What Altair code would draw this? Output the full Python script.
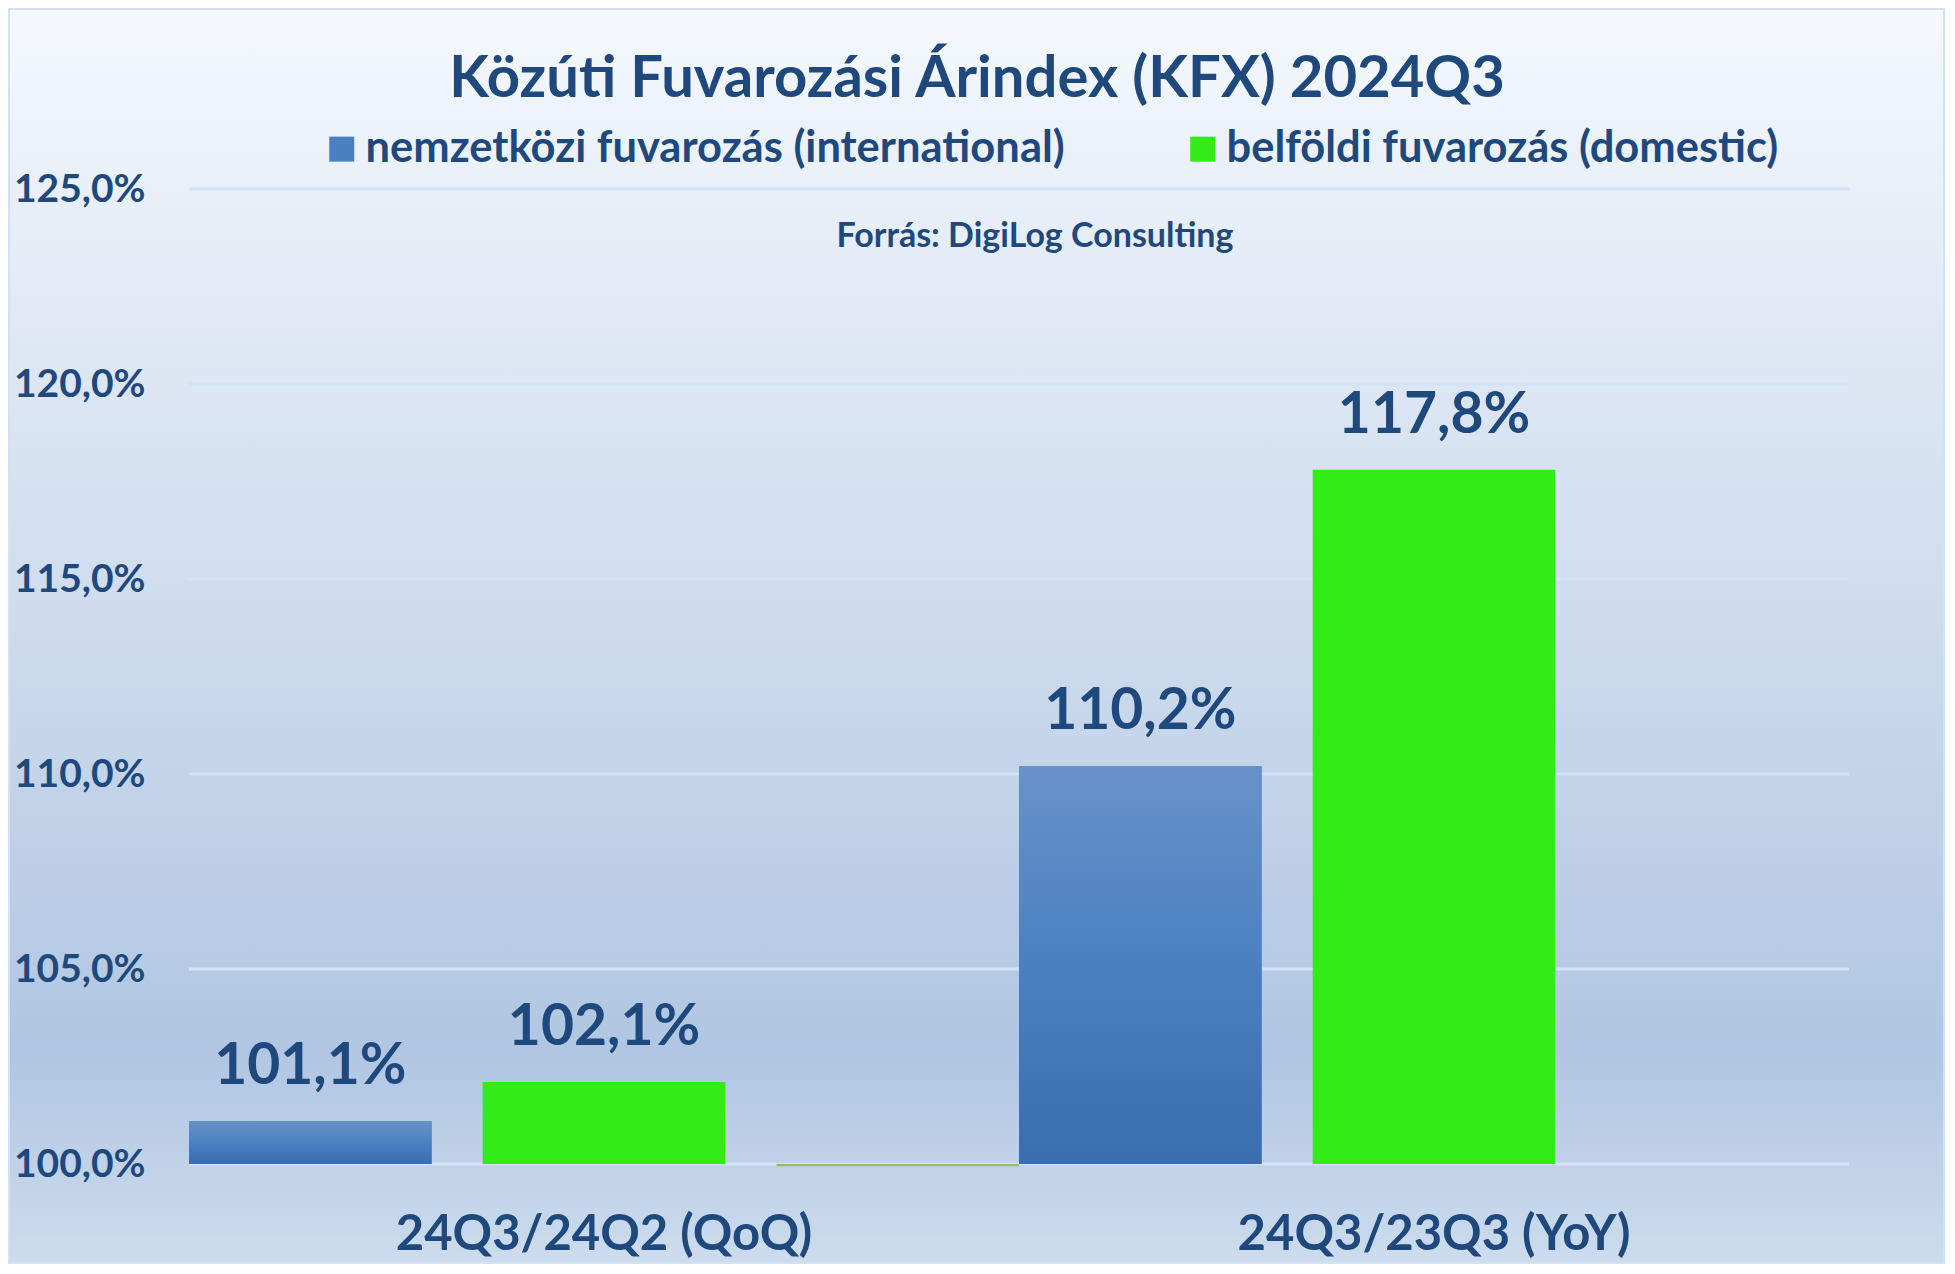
import altair as alt
import pandas as pd

CATEGORIES = ["24Q3/24Q2 (QoQ)", "24Q3/23Q3 (YoY)"]
SERIES = ["nemzetközi fuvarozás (international)", "belföldi fuvarozás (domestic)"]
INTERNATIONAL = [101.1, 110.2]
DOMESTIC = [102.1, 117.8]
THIRD_SLOT = "_"
THIRD_CAT = ["24Q3/24Q2 (QoQ)"]
THIRD_VALUE = [100.0]
Y_TICKS = [100, 105, 110, 115, 120, 125]
TITLE = ["Közúti Fuvarozási Árindex (KFX) 2024Q3"]
SOURCE = ["Forrás: DigiLog Consulting"]

TXT = "#1F497D"
FONT = "Lato"
W, H = 1660, 975
PAD = {"left": 181, "top": 181, "right": 96, "bottom": 100}

rows = []
for c, a, b in zip(CATEGORIES, INTERNATIONAL, DOMESTIC):
    rows.append({"cat": c, "series": SERIES[0], "value": a})
    rows.append({"cat": c, "series": SERIES[1], "value": b})
df = pd.DataFrame(rows)
df["label"] = df["value"].map(lambda v: f"{v:.1f}".replace(".", ",") + "%")

third = pd.DataFrame({"cat": THIRD_CAT, "series": [THIRD_SLOT], "value": THIRD_VALUE})

xscale = alt.Scale(domain=CATEGORIES, paddingInner=0, paddingOuter=0)
xoff = alt.XOffset("series:N", scale=alt.Scale(domain=SERIES + [THIRD_SLOT], paddingInner=0.174, paddingOuter=0))
yscale = alt.Scale(domain=[100, 125], nice=False, zero=False)

xaxis = alt.Axis(title=None, labelAngle=0, labelFont=FONT, labelFontSize=49, labelFontWeight="bold",
                 labelColor=TXT, ticks=False, tickSize=0, domain=False, grid=False, labelPadding=85,
                 labelBaseline="alphabetic", labelLimit=0, zindex=2)
yaxis = alt.Axis(title=None, values=Y_TICKS, grid=False, domain=False, ticks=False, tickSize=0,
                 labelPadding=44, labelFont=FONT, labelFontSize=39, labelFontWeight="bold", labelColor=TXT,
                 labelExpr="replace(format(datum.value, '.1f'), '.', ',') + '%'", zindex=2)

X = alt.X("cat:N", scale=xscale, axis=xaxis)
Y = alt.Y("value:Q", scale=yscale, axis=yaxis)

bgrad = alt.Gradient(gradient="linear", x1=0, x2=0, y1=0, y2=1, stops=[
    alt.GradientStop(color="#f5f9fd", offset=0),
    alt.GradientStop(color="#e0e9f5", offset=0.25),
    alt.GradientStop(color="#cddbed", offset=0.5),
    alt.GradientStop(color="#b0c6e2", offset=0.83),
    alt.GradientStop(color="#cddcee", offset=1),
])
background = alt.Chart(pd.DataFrame({"a": [0]})).mark_rect(color=bgrad, stroke="#d3e2f3", strokeWidth=4).encode(
    x=alt.value(-PAD["left"]), x2=alt.value(W + PAD["right"]),
    y=alt.value(-PAD["top"]), y2=alt.value(H + PAD["bottom"]))

grid = alt.Chart(pd.DataFrame({"t": Y_TICKS})).mark_rule(color="#d3e2f4", strokeWidth=3).encode(
    y=alt.Y("t:Q", scale=yscale, axis=yaxis), x=alt.value(0), x2=alt.value(W))

bars = alt.Chart(df).mark_bar().encode(
    x=X, xOffset=xoff, y=Y, y2=alt.datum(100),
    color=alt.Color("series:N", scale=alt.Scale(domain=SERIES, range=["#4a7fc0", "#33eb17"]),
                    legend=alt.Legend(title=None, orient="none", legendX=131, legendY=-62,
                                      direction="horizontal", symbolType="square", symbolSize=625,
                                      symbolStrokeWidth=0, labelFont=FONT, labelFontSize=43.5,
                                      labelFontWeight="bold", labelColor=TXT, labelOffset=2,
                                      columnPadding=116, labelLimit=0, zindex=2)),
)

bgrad_bar = alt.Gradient(gradient="linear", x1=0, x2=0, y1=0, y2=1, stops=[
    alt.GradientStop(color="#6892c8", offset=0),
    alt.GradientStop(color="#4a80c2", offset=0.5),
    alt.GradientStop(color="#3a6cb0", offset=1),
])
blue = alt.Chart(df).transform_filter(alt.datum.series == SERIES[0]).mark_bar(color=bgrad_bar).encode(
    x=X, xOffset=xoff, y=Y, y2=alt.datum(100))

third_bar = alt.Chart(third).mark_bar(color="#9bbb59").encode(
    x=X, xOffset=xoff, y=Y, y2=alt.datum(99.94))

labels = alt.Chart(df).mark_text(font=FONT, fontSize=57, fontWeight="bold", color=TXT, dy=-37,
                                 baseline="alphabetic").encode(
    x=X, xOffset=xoff, y=Y, text="label:N")

title = alt.Chart(pd.DataFrame({"t": TITLE})).mark_text(font=FONT, fontSize=58, fontWeight="bold", color=TXT,
                                                        baseline="alphabetic").encode(
    x=alt.value(788), y=alt.value(-92), text="t:N")
source = alt.Chart(pd.DataFrame({"t": SOURCE})).mark_text(font=FONT, fontSize=34, fontWeight="bold", color=TXT,
                                                          baseline="alphabetic").encode(
    x=alt.value(846), y=alt.value(58), text="t:N")

chart = alt.layer(background, grid, bars, blue, third_bar, labels, title, source).properties(
    width=W, height=H, padding=PAD, autosize=alt.AutoSizeParams(type="none"),
    background="#ffffff",
).configure_view(stroke=None)

chart.save("out.html", embed_options={"renderer": "svg", "actions": False})
